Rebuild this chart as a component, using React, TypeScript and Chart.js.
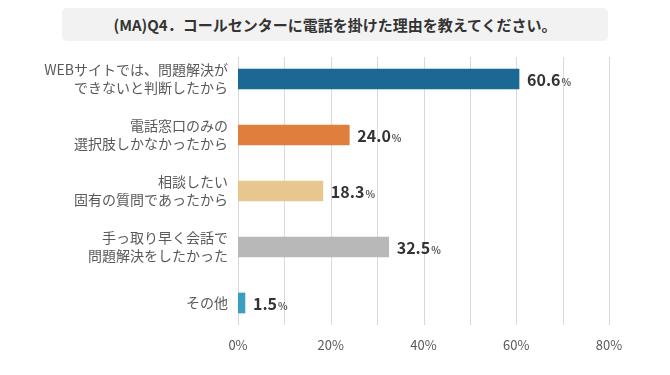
import React, { useEffect, useRef } from 'react';
import { Chart, registerables } from 'chart.js';

Chart.register(...registerables);

const titleText = '(MA)Q4．コールセンターに電話を掛けた理由を教えてください。';
const categories: string[][] = [
  ['WEBサイトでは、問題解決が', 'できないと判断したから'],
  ['電話窓口のみの', '選択肢しかなかったから'],
  ['相談したい', '固有の質問であったから'],
  ['手っ取り早く会話で', '問題解決をしたかった'],
  ['その他'],
];
const values = [60.6, 24.0, 18.3, 32.5, 1.5];
const barColors = ['#1a6893', '#e07e3e', '#e7c78e', '#b8b8b8', '#399ec0'];
const xMin = 0;
const xMax = 80;
const xTickStep = 20;
const gridValues = [0, 10, 20, 30, 40, 50, 60, 70, 80];

const FONT = '"Noto Sans CJK JP", "Noto Sans", sans-serif';

const gridPlugin = {
  id: 'customGrid',
  beforeDatasetsDraw(chart: any) {
    const { ctx, chartArea, scales } = chart;
    const xs = scales.x;
    ctx.save();
    ctx.strokeStyle = '#d9d9d9';
    ctx.lineWidth = 1;
    gridValues.forEach((v) => {
      const px = Math.round(xs.getPixelForValue(v)) + 0.5;
      ctx.beginPath();
      ctx.moveTo(px, chartArea.top + 6);
      ctx.lineTo(px, chartArea.bottom - 6);
      ctx.stroke();
    });
    ctx.restore();
  },
};

const labelPlugin = {
  id: 'valueLabels',
  afterDatasetsDraw(chart: any) {
    const { ctx } = chart;
    const meta = chart.getDatasetMeta(0);
    ctx.save();
    ctx.textAlign = 'left';
    ctx.textBaseline = 'alphabetic';
    meta.data.forEach((el: any, i: number) => {
      const num = values[i].toFixed(1);
      const x = el.x + 8;
      const y = el.y + 6.5;
      ctx.font = `bold 16px ${FONT}`;
      ctx.fillStyle = '#333333';
      ctx.fillText(num, x, y);
      const w = ctx.measureText(num).width;
      ctx.font = `bold 10px ${FONT}`;
      ctx.fillStyle = '#555555';
      ctx.fillText('%', x + w + 1, y);
    });
    ctx.restore();
  },
};

export default function App() {
  const canvasRef = useRef<HTMLCanvasElement | null>(null);

  useEffect(() => {
    if (!canvasRef.current) return;
    const chart = new Chart(canvasRef.current, {
      type: 'bar',
      data: {
        labels: categories,
        datasets: [
          {
            data: values,
            backgroundColor: barColors,
            borderWidth: 0,
            barThickness: 20,
          },
        ],
      },
      options: {
        indexAxis: 'y',
        animation: false,
        responsive: false,
        devicePixelRatio: 1,
        layout: { padding: { top: 51, right: 61, left: 0, bottom: 0 } },
        plugins: {
          legend: { display: false },
          tooltip: { enabled: false },
          title: { display: false },
        },
        scales: {
          x: {
            min: xMin,
            max: xMax,
            grid: { display: false, drawTicks: false },
            border: { display: false },
            ticks: {
              stepSize: xTickStep,
              padding: 6,
              color: '#595959',
              font: { family: FONT, size: 13 },
              callback: (v: any) => `${v}%`,
            },
            afterFit: (scale: any) => {
              scale.height = 44;
            },
          },
          y: {
            grid: { display: false, drawTicks: false },
            border: { display: false },
            ticks: {
              padding: 10,
              color: '#595959',
              font: { family: FONT, size: 14, lineHeight: 1.3 },
            },
            afterFit: (scale: any) => {
              scale.width = 238;
            },
          },
        },
      },
      plugins: [gridPlugin, labelPlugin],
    });
    return () => chart.destroy();
  }, []);

  return (
    <div
      style={{
        position: 'fixed',
        left: 0,
        top: 0,
        width: 670,
        height: 375,
        background: '#ffffff',
        overflow: 'hidden',
      }}
    >
      <div
        style={{
          position: 'absolute',
          left: 62,
          top: 8,
          width: 546,
          height: 33,
          background: '#f2f2f2',
          borderRadius: 5,
          display: 'flex',
          alignItems: 'center',
          justifyContent: 'center',
          fontFamily: FONT,
          fontWeight: 'bold',
          fontSize: 15,
          color: '#333333',
          whiteSpace: 'nowrap',
        }}
      >
        {titleText}
      </div>
      <canvas
        ref={canvasRef}
        width={670}
        height={375}
        style={{ position: 'absolute', left: 0, top: 0, width: 670, height: 375 }}
      />
    </div>
  );
}
